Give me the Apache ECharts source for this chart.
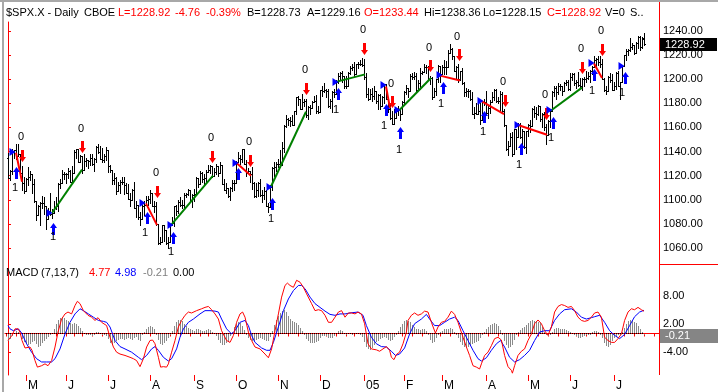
<!DOCTYPE html>
<html><head><meta charset="utf-8">
<script src="https://cdn.jsdelivr.net/npm/echarts@6/dist/echarts.min.js"></script>
<style>html,body{margin:0;padding:0;background:#fff}#c{width:718px;height:392px}</style>
</head><body><div id="c"></div>
<script>
// ---------- trading calendar ----------
const months = ['2004-04','2004-05','2004-06','2004-07','2004-08','2004-09','2004-10','2004-11','2004-12',
  '2005-01','2005-02','2005-03','2005-04','2005-05','2005-06','2005-07'];
const monthDays = [
  [20,21,22,23,26,27,28,29,30],
  [3,4,5,6,7,10,11,12,13,14,17,18,19,20,21,24,25,26,27,28],
  [1,2,3,4,7,8,9,10,14,15,16,17,18,21,22,23,24,25,28,29,30],
  [1,2,6,7,8,9,12,13,14,15,16,19,20,21,22,23,26,27,28,29,30],
  [2,3,4,5,6,9,10,11,12,13,16,17,18,19,20,23,24,25,26,27,30,31],
  [1,2,3,7,8,9,10,13,14,15,16,17,20,21,22,23,24,27,28,29,30],
  [1,4,5,6,7,8,11,12,13,14,15,18,19,20,21,22,25,26,27,28,29],
  [1,2,3,4,5,8,9,10,11,12,15,16,17,18,19,22,23,24,26,29,30],
  [1,2,3,6,7,8,9,10,13,14,15,16,17,20,21,22,23,27,28,29,30,31],
  [3,4,5,6,7,10,11,12,13,14,18,19,20,21,24,25,26,27,28,31],
  [1,2,3,4,7,8,9,10,11,14,15,16,17,18,22,23,24,25,28],
  [1,2,3,4,7,8,9,10,11,14,15,16,17,18,21,22,23,24,28,29,30,31],
  [1,4,5,6,7,8,11,12,13,14,15,18,19,20,21,22,25,26,27,28,29],
  [2,3,4,5,6,9,10,11,12,13,16,17,18,19,20,23,24,25,26,27,31],
  [1,2,3,6,7,8,9,10,13,14,15,16,17,20,21,22,23,24,27,28,29,30],
  [1,5,6,7,8,11,12,13,14,15,18,19,20,21,22,25]
];
const monthLabels = ['M','J','J','A','S','O','N','D','05','F','M','A','M','J','J'];
const priceTicks = [1060,1080,1100,1120,1140,1160,1180,1200,1220,1240];
const macdTicks = [8,2,-4];

// ---------- daily OHLC ($SPX.X) ----------
const open = [
 1135,1118,1124,1140,1141,1136,1138,1122,1114,
 1107,1117,1119,1121,1113,1099,1087,1095,1097,1097,1095,1084,1091,1088,1089,1093,1095,1113,1114,1121,
 1121,1121,1124,1115,1122,1140,1142,1131,1136,1125,1132,1133,1132,1135,1130,1134,1144,1140,1134,1133,1136,
 1141,1128,1125,1116,1118,1107,1112,1115,1115,1112,1106,1101,1100,1108,1093,1096,1086,1084,1095,1096,1100,
 1101,1106,1095,1095,1080,1064,1065,1079,1075,1064,1065,1079,1081,1095,1091,1098,1096,1096,1104,1105,1108,1099,
 1104,1105,1118,1113,1122,1117,1118,1123,1125,1128,1120,1123,1128,1122,1129,1113,1108,1110,1103,1110,1114,
 1114,1131,1135,1134,1142,1130,1122,1124,1121,1114,1103,1108,1114,1104,1104,1107,1095,1094,1111,1126,1127,
 1130,1130,1129,1143,1161,1167,1166,1165,1162,1174,1185,1184,1175,1181,1182,1170,1177,1176,1181,1182,1174,
 1173,1191,1190,1191,1190,1178,1182,1189,1188,1198,1203,1205,1203,1194,1194,1205,1209,1210,1204,1213,1213,1213,
 1212,1202,1188,1184,1188,1186,1190,1182,1187,1178,1185,1196,1184,1175,1168,1163,1168,1174,1175,1171,
 1181,1189,1193,1190,1203,1202,1203,1191,1197,1205,1206,1210,1210,1200,1201,1185,1190,1200,1211,
 1204,1210,1210,1210,1222,1225,1219,1207,1210,1200,1207,1197,1189,1190,1190,1184,1171,1172,1171,1174,1166,1181,
 1181,1172,1176,1181,1185,1191,1182,1182,1188,1174,1162,1142,1145,1152,1138,1159,1152,1162,1152,1157,1144,
 1157,1162,1161,1175,1172,1171,1178,1167,1171,1160,1154,1165,1174,1189,1193,1189,1194,1194,1190,1197,1198,
 1192,1202,1204,1197,1198,1195,1194,1200,1200,1201,1203,1207,1210,1216,1217,1214,1213,1200,1191,1190,1202,1199,
 1191,1194,1205,1194,1198,1211,1220,1223,1224,1227,1228,1222,1230,1235,1227,1233.44
];
const high = [
 1139,1125,1142,1141,1146,1146,1138,1128,1119,
 1118,1127,1124,1121,1117,1099,1096,1098,1103,1102,1095,1093,1106,1092,1099,1102,1114,1117,1125,1123,
 1122,1126,1125,1128,1141,1142,1142,1137,1136,1138,1135,1133,1138,1138,1135,1145,1146,1145,1143,1138,1144,
 1141,1129,1125,1122,1119,1115,1116,1119,1119,1114,1113,1106,1109,1115,1099,1096,1090,1096,1099,1103,1103,
 1108,1106,1099,1098,1080,1069,1079,1079,1075,1069,1080,1086,1095,1096,1100,1102,1100,1106,1106,1109,1108,1105,
 1109,1119,1118,1124,1123,1121,1125,1129,1129,1128,1126,1130,1128,1131,1129,1117,1114,1110,1111,1116,1116,
 1132,1140,1137,1142,1142,1133,1126,1124,1127,1115,1114,1115,1117,1108,1111,1108,1097,1112,1127,1131,1131,
 1134,1141,1148,1162,1170,1168,1169,1170,1174,1185,1186,1184,1188,1184,1184,1178,1179,1182,1186,1187,1178,
 1191,1194,1197,1192,1192,1184,1190,1192,1199,1205,1206,1207,1203,1203,1206,1211,1213,1214,1213,1214,1216,1218,
 1217,1205,1193,1192,1193,1194,1190,1188,1188,1186,1196,1196,1184,1180,1174,1175,1175,1178,1176,1182,
 1190,1195,1193,1204,1205,1206,1205,1199,1209,1207,1213,1212,1211,1203,1202,1193,1200,1212,1211,
 1212,1216,1215,1224,1229,1226,1219,1211,1213,1207,1209,1198,1193,1192,1191,1189,1177,1180,1180,1180,1181,1184,
 1190,1178,1183,1189,1192,1192,1185,1190,1189,1175,1162,1149,1155,1156,1159,1159,1164,1164,1159,1157,1157,
 1163,1166,1176,1178,1177,1179,1178,1172,1173,1163,1166,1174,1190,1194,1194,1197,1196,1194,1198,1199,1199,
 1205,1205,1205,1199,1206,1201,1201,1202,1207,1206,1208,1211,1219,1218,1219,1219,1217,1201,1194,1203,1205,1204,
 1198,1206,1207,1198,1212,1220,1225,1225,1234,1230,1228,1231,1236,1236,1235,1238.36
];
const low = [
 1118,1116,1121,1135,1134,1136,1121,1108,1106,
 1107,1112,1116,1106,1098,1083,1087,1079,1093,1088,1076,1084,1087,1085,1089,1092,1091,1110,1114,1117,
 1114,1118,1115,1115,1122,1135,1131,1131,1122,1125,1128,1126,1129,1129,1124,1131,1139,1134,1131,1131,1133,
 1123,1123,1113,1113,1105,1107,1106,1113,1105,1106,1101,1095,1100,1093,1086,1084,1079,1084,1087,1096,1096,
 1097,1095,1090,1079,1063,1063,1065,1066,1063,1060,1065,1079,1078,1087,1089,1095,1093,1094,1102,1104,1099,1094,
 1099,1105,1111,1113,1115,1113,1114,1123,1122,1119,1120,1121,1120,1122,1113,1108,1106,1102,1100,1107,1108,
 1114,1131,1130,1131,1130,1120,1122,1115,1109,1102,1102,1103,1103,1098,1101,1095,1090,1094,1108,1120,1124,
 1127,1127,1129,1140,1160,1162,1161,1162,1162,1171,1179,1175,1175,1178,1169,1167,1171,1176,1181,1172,1172,
 1173,1186,1189,1185,1177,1176,1173,1185,1188,1197,1199,1198,1193,1193,1194,1204,1208,1203,1204,1209,1212,1211,
 1200,1185,1183,1184,1182,1184,1180,1175,1175,1178,1180,1184,1173,1167,1163,1163,1168,1170,1166,1171,
 1180,1188,1185,1190,1200,1200,1190,1191,1192,1204,1206,1205,1200,1196,1184,1185,1187,1198,1198,
 1204,1204,1204,1210,1222,1217,1207,1201,1198,1199,1196,1186,1186,1185,1183,1171,1168,1171,1171,1163,1166,1179,
 1170,1168,1172,1181,1183,1181,1180,1174,1173,1161,1141,1137,1145,1136,1138,1142,1152,1151,1145,1143,1139,
 1153,1156,1161,1169,1167,1170,1165,1160,1158,1146,1154,1160,1174,1186,1184,1188,1191,1187,1190,1195,1191,
 1191,1199,1195,1193,1194,1193,1191,1194,1198,1200,1198,1204,1210,1211,1212,1210,1200,1190,1188,1190,1198,1191,
 1191,1192,1194,1184,1198,1211,1216,1220,1223,1225,1221,1222,1226,1224,1226,1228.15
];
const close = [
 1118,1124,1140,1141,1136,1138,1122,1114,1107,
 1117,1119,1121,1113,1099,1087,1095,1097,1097,1095,1084,1091,1088,1089,1093,1095,1113,1114,1121,1121,
 1121,1124,1115,1122,1140,1142,1131,1136,1125,1132,1133,1132,1135,1130,1134,1144,1140,1134,1133,1136,1141,
 1128,1125,1116,1118,1107,1112,1115,1115,1112,1106,1101,1100,1108,1093,1096,1086,1084,1095,1096,1100,1101,
 1106,1095,1095,1080,1064,1065,1079,1075,1064,1065,1079,1081,1095,1091,1098,1096,1096,1104,1105,1108,1099,1104,
 1105,1118,1113,1122,1117,1118,1123,1125,1128,1120,1123,1128,1122,1129,1113,1108,1110,1103,1110,1114,1114,
 1131,1135,1134,1142,1130,1122,1124,1121,1114,1103,1108,1114,1104,1104,1107,1095,1094,1111,1126,1127,1130,
 1130,1129,1143,1161,1167,1166,1165,1162,1174,1185,1184,1175,1181,1182,1170,1177,1176,1181,1182,1174,1173,
 1191,1190,1191,1190,1178,1182,1189,1188,1198,1203,1205,1203,1194,1194,1205,1209,1210,1204,1213,1213,1213,1212,
 1202,1188,1184,1188,1186,1190,1182,1187,1178,1185,1196,1184,1175,1168,1163,1168,1174,1175,1171,1181,
 1189,1193,1190,1203,1202,1203,1191,1197,1205,1206,1210,1210,1200,1201,1185,1190,1200,1211,1204,
 1210,1210,1210,1222,1225,1219,1207,1210,1200,1207,1197,1189,1190,1190,1184,1171,1172,1171,1174,1166,1181,1181,
 1172,1176,1181,1185,1191,1182,1182,1188,1174,1162,1142,1145,1152,1138,1159,1152,1162,1152,1157,1144,1157,
 1162,1161,1175,1172,1171,1178,1167,1171,1160,1154,1165,1174,1189,1193,1189,1194,1194,1190,1197,1198,1192,
 1202,1204,1197,1198,1195,1194,1200,1200,1201,1203,1207,1210,1216,1217,1214,1213,1200,1191,1190,1202,1199,1191,
 1194,1205,1194,1198,1211,1220,1223,1224,1227,1228,1222,1230,1235,1227,1234,1228.92
];

// ---------- system signals (bar index, price) ----------
const buyArrows = [[4,1127],[22.5,1080.7],[69.5,1090],[82.5,1073.3],[115,1126.4],[132,1101.5],[165,1192.7],[189,1179.4],
  [196,1160.4],[217.5,1197.7],[238,1173.6],[256.5,1147.1],[272.5,1168.7],[293,1208.5],[308.5,1206]];
const sellArrows = [[7,1131.3],[37,1138.8],[74.5,1101.5],[102,1130.5],[121,1127.2],[149,1186.9],[178,1220.1],[192,1176.1],
  [211,1206],[225.5,1215.1],[248.5,1177],[269,1166.2],[287,1204.3],[297,1219.3]];
const entryMarks = [[2,1139.6],[20.5,1089],[67,1097.3],[81,1079.1],[113.5,1130.5],[130.5,1110.6],[163.5,1197.7],[187.5,1195.2],
  [194.5,1174.5],[215.5,1203.5],[236,1181.9],[254.5,1162],[270.5,1174.5],[291.5,1213.5],[306.5,1211]];
const trendUp = [[22,1089,37,1125],[81.5,1079,102.5,1120],[131.5,1111,149,1173],[164.5,1198,178.5,1204],
  [195.5,1174,211.5,1201],[271.5,1174,287,1193]];
const trendDown = [[4,1139,7,1115],[69,1097,74.5,1079],[114,1131,121.5,1120],[189,1194,191,1176],
  [216,1203,226,1199],[236.5,1182,248,1171],[255,1162,269.5,1154],[293,1213,297,1201]];
const zeroLabels = [[6.5,1152.1],[36.5,1158.7],[74,1122.2],[101.5,1151.2],[120.5,1147.9],[148.5,1207.7],[177.5,1240.8],
  [191.5,1196],[210.5,1225.9],[224.5,1235],[247.5,1197.7],[268.5,1186.9],[286.5,1225.1],[296.5,1240]];
const oneLabels = [[3.5,1109.8],[22.5,1069.1],[68.5,1072.4],[81.5,1056.7],[131.5,1084.1],[164,1174.5],[188,1161.2],
  [195.5,1141.3],[216.5,1179.4],[237.5,1156.2],[255.5,1128.9],[271.5,1151.2],[292,1190.2],[307,1188.6]];

// ---------- MACD (7,13,7) ----------
const macdLine = [[0,-1.5],[2,-0.4],[3.5,1.0],[5,1.0],[6,0.3],[7,-1.5],[8.5,-3.1],[11,-2.9],[12,-3.6],[13.5,-5.8],[14.7,-7.2],[16.8,-6.9],[18.5,-6.5],[20,-6.9],[21.8,-5.8],[23.5,-2.9],[25,0.3],[26.8,3.1],[28.5,4.2],[30,4.6],[31.8,4.2],[33.5,6.0],[34.7,6.9],[36,6.4],[37.7,4.9],[40,3.9],[41.8,3.5],[43.5,2.8],[45,3.4],[46.8,2.4],[49.3,1.7],[51,-0.8],[52.7,-2.9],[54.3,-4.0],[56,-4.4],[58.5,-4.7],[61,-5.1],[62.7,-5.4],[64.3,-5.8],[66,-7.1],[67.7,-5.4],[69.3,-2.9],[71,-1.5],[72.3,-1.4],[73.5,-2.2],[75.2,-5.1],[76.3,-7.2],[77.7,-7.1],[79.3,-7.2],[80.2,-6.5],[81.8,-4.0],[83.5,-1.5],[85.2,1.4],[86.8,2.8],[88.5,3.9],[90.2,4.6],[91.8,4.4],[94.3,4.9],[96.8,5.3],[98.5,5.6],[100.2,5.8],[101.8,5.1],[103.5,4.2],[105.2,3.1],[106.8,0.6],[109.3,-1.5],[111,-1.9],[112.7,-0.4],[114.3,2.4],[116,4.2],[117.3,4.6],[118.5,3.5],[120.2,0.3],[121.8,-1.5],[123.5,-2.9],[126,-3.3],[128.5,-4.4],[130.2,-5.2],[131.8,-3.3],[133.5,0.6],[135.2,4.2],[136.8,7.8],[138.5,10.3],[139.7,10.8],[141,10.3],[142.7,9.9],[144.3,11.4],[145.2,11.7],[146,11.0],[147.7,9.9],[149.3,8.5],[151.8,6.4],[153.5,4.9],[155.2,5.1],[156.8,4.9],[158.5,3.9],[160.2,2.4],[161.8,2.4],[163.5,3.5],[165.2,4.6],[166.8,4.9],[168.5,3.5],[170.2,4.4],[171.8,4.4],[173.5,4.2],[175,4.6],[176.7,4.2],[178.3,2.1],[180,-2.2],[181.7,-3.3],[184.2,-3.5],[185.8,-3.8],[187.5,-3.3],[189.2,-2.8],[190.8,-3.6],[191.7,-5.1],[193,-5.6],[194.2,-4.5],[195.8,-4.0],[197.5,-2.2],[199.2,0.3],[200,2.8],[201.7,3.9],[203.3,4.4],[205,3.9],[206.7,4.2],[208.3,4.8],[210,4.6],[211.7,2.4],[213.7,0.1],[215,1.4],[216.7,2.4],[218.3,2.6],[220,3.5],[221.7,4.8],[223.3,4.1],[225,2.4],[227.5,-0.8],[229.2,-2.9],[230.8,-4.7],[232.5,-6.9],[234.2,-7.2],[235.8,-7.6],[236.7,-6.5],[238.3,-4.7],[240,-4.0],[241.7,-2.6],[243.3,-1.1],[245,-0.8],[246.7,-1.4],[248.3,-4.7],[250,-7.1],[251.7,-7.9],[252.2,-8.5],[253.3,-6.9],[255,-4.7],[256.7,-3.8],[258.3,-3.3],[260,-1.5],[261.7,-0.1],[263.3,2.1],[265,2.9],[266.7,2.1],[268.3,0.6],[270,-0.4],[271.7,1.4],[273.3,4.6],[275,5.8],[276.7,6.2],[278.3,6.0],[280,5.6],[281.7,5.8],[283.3,4.9],[285,3.5],[286.7,2.8],[288.3,2.6],[290,2.8],[291.7,3.5],[293.3,4.4],[295,4.6],[296.7,3.5],[298.3,-0.8],[300,-1.5],[301.7,-1.9],[303.3,-1.9],[305,-1.1],[306.7,-0.1],[308.3,2.8],[310,4.6],[311.7,5.3],[313.3,5.1],[315,5.6],[316.7,5.1],[318,4.77]];
const signalLine = [[0,1.7],[1,1.0],[2.7,0.6],[5.2,1.0],[6.8,0.1],[9.3,-2.2],[11.8,-4.0],[14.3,-5.4],[16.8,-6.1],[19.3,-6.1],[21.8,-6.1],[23.5,-5.4],[26,-3.3],[28.5,-0.1],[31,2.4],[33.5,4.2],[36,5.3],[37.7,4.9],[40.2,4.2],[42.7,3.5],[45.2,2.8],[47.7,2.6],[49.3,2.4],[51,1.4],[53.5,-1.5],[56,-2.8],[58.5,-3.3],[61.8,-4.0],[65.2,-5.1],[66.8,-5.6],[69.3,-4.7],[71.8,-3.3],[73.5,-2.8],[75.2,-3.6],[77.7,-5.1],[80.2,-5.9],[81.8,-5.4],[84.3,-3.3],[86,-0.8],[87.7,1.0],[90.2,2.4],[92.7,3.1],[96,4.2],[98.5,4.9],[101,4.9],[103.5,4.8],[105.2,4.6],[106.8,3.1],[109.3,1.0],[111.8,-0.1],[113.5,0.6],[116,2.4],[118.5,2.8],[120.2,1.7],[121.8,-0.4],[123.5,-1.9],[126.8,-3.1],[129.3,-3.6],[131,-3.6],[132.7,-1.9],[135.2,1.4],[137.7,4.9],[140.2,7.4],[142.7,9.2],[145.2,10.3],[146.8,10.3],[148.5,9.6],[151,7.8],[153.5,6.4],[156,5.6],[158.5,4.8],[161,4.1],[163.5,3.9],[166,4.2],[168.5,4.2],[171,4.4],[175,4.6],[177.5,3.9],[179.2,1.7],[181.7,-0.8],[184.2,-2.2],[186.7,-2.8],[189.2,-2.9],[191.7,-3.8],[193.7,-4.7],[195.8,-4.4],[198.3,-3.1],[200.8,-0.1],[203.3,2.1],[206.7,3.1],[209.2,4.1],[210.8,3.1],[213.3,1.7],[215.8,1.7],[218.3,2.4],[220.8,3.1],[223.3,3.5],[225,2.8],[227.5,0.6],[230,-1.5],[232.5,-3.6],[235,-5.4],[236.7,-5.9],[239.2,-5.2],[241.7,-3.6],[244.2,-2.2],[246.3,-1.5],[248.3,-2.9],[250.8,-5.1],[253.3,-6.1],[255.8,-5.6],[258.3,-4.7],[260.8,-3.6],[263.3,-1.5],[265.8,0.3],[268.3,0.6],[270.8,0.6],[273.3,2.8],[275.8,4.2],[278.3,5.1],[281.7,5.3],[284.2,4.6],[286.7,3.5],[289.2,3.1],[291.7,3.4],[293.3,3.6],[295.8,3.9],[298.3,2.4],[300.8,0.6],[303.3,-0.4],[305.8,-1.1],[308.3,-0.2],[310.8,1.7],[313.3,3.6],[315.8,4.6],[318,4.98]];
const histogram = [
 -1.5,-1.2,-0.6,0.2,0.5,0.4,-0.3,-1.2,-1.8,-2.2,
 -2.5,-2.2,-1.8,-1.6,-2.3,-2.8,-2.6,-2.0,-1.5,-1.2,
 -0.8,-0.4,0.2,1.0,2.0,2.8,3.3,3.6,3.4,3.0,
 2.6,2.2,2.0,2.2,2.0,1.6,1.2,0.6,0.2,-0.2,
 -0.4,-0.3,-0.5,-0.2,0.3,0.4,0.1,-0.2,-0.4,-0.5,
 -1.2,-2.0,-2.2,-2.0,-1.6,-1.4,-1.2,-1.2,-1.4,-1.1,
 -1.0,-1.2,-1.3,-1.0,-0.8,-1.4,-1.5,-0.4,0.4,0.9,
 1.4,1.7,1.5,1.0,-0.2,-1.3,-2.2,-2.5,-2.0,-1.6,
 -1.0,-0.3,0.6,1.6,2.4,2.9,3.0,2.6,2.1,1.6,
 1.2,1.0,0.8,0.6,0.9,1.0,0.8,0.5,0.6,0.7,
 0.9,0.7,0.4,0.1,-0.6,-1.4,-2.1,-2.5,-2.4,-2.0,
 -1.5,-0.6,0.4,1.4,2.1,2.4,2.2,1.6,0.8,-0.2,
 -0.9,-1.4,-1.5,-1.6,-1.4,-1.2,-1.0,-1.2,-1.4,-1.5,
 -1.5,-0.8,0.6,1.8,2.9,3.8,4.4,4.8,5.0,4.6,
 3.8,3.2,2.6,2.4,2.2,1.8,1.2,0.6,-0.4,-1.2,
 -1.7,-2.0,-2.1,-2.0,-1.8,-1.6,-1.0,-0.6,-0.5,-0.6,
 -0.9,-1.0,-0.9,-0.5,0.2,0.6,0.8,0.5,0.1,0.0,
 0.1,0.2,0.0,0.1,0.2,0.1,0.0,-0.8,-1.8,-2.8,
 -3.4,-3.5,-3.0,-2.4,-1.8,-1.5,-1.2,-0.9,-0.7,-1.0,
 -1.3,-1.6,-1.4,-0.8,-0.2,0.6,1.4,2.1,2.6,2.8,
 2.7,2.4,1.9,1.4,1.0,0.9,0.8,0.9,1.0,0.6,
 -0.4,-1.4,-2.0,-1.8,-1.0,-0.2,0.3,0.6,0.9,1.0,
 1.0,1.1,0.9,0.4,-0.3,-1.0,-1.8,-2.4,-2.8,-3.0,
 -2.8,-2.4,-2.2,-2.0,-1.8,-1.6,-1.0,-0.2,0.4,1.0,
 1.4,1.8,2.1,2.3,2.1,1.6,0.8,-0.4,-1.6,-2.4,
 -3.0,-2.8,-2.4,-1.4,-0.4,0.4,0.8,1.2,1.5,1.9,
 2.3,2.6,2.8,2.7,2.6,2.5,2.2,1.4,0.4,-0.3,
 -0.5,-0.3,0.4,1.0,1.2,1.2,1.0,0.9,1.0,0.8,
 0.6,0.4,0.2,-0.2,-0.6,-0.9,-1.0,-0.8,-0.6,-0.4,
 -0.2,0.0,0.3,0.5,0.5,0.3,-0.2,-1.0,-2.0,-2.6,
 -2.8,-2.4,-1.6,-1.0,-0.6,-0.4,-0.2,0.4,1.2,2.0,
 2.6,2.8,2.7,2.5,2.2,1.6,1.0,0.4,-0.21
];

// ---------- derived calendar helpers ----------
const dates = [];
months.forEach((m, k) => monthDays[k].forEach(d => dates.push(m + '-' + String(d).padStart(2, '0'))));
const wd = dates.map(s => new Date(s + 'T12:00:00Z').getUTCDay());
const weekStarts = [1 - wd[0]];
for (let i = 1; i < dates.length; i++) if (wd[i] < wd[i - 1]) weekStarts.push(i);
weekStarts.push(dates.length - 1 + (6 - wd[dates.length - 1]));
const monthStarts = [];
for (let i = 1; i < dates.length; i++) if (dates[i].slice(0, 7) !== dates[i - 1].slice(0, 7)) monthStarts.push(i);
const labelAt = {};
monthStarts.forEach((j, k) => { labelAt[j] = monthLabels[k]; });

const FONT = '"Liberation Sans", Arial, sans-serif';
const RED = '#ff0000', BLUE = '#0000ff', GREEN = '#008000';

const chart = echarts.init(document.getElementById('c'), null, { renderer: 'canvas' });

function ohlcItem(params, api) {
  const j = api.value(0);
  const x = Math.round(api.coord([j, 0])[0]);
  const yO = Math.round(api.coord([j, api.value(1)])[1]);
  const yH = Math.round(api.coord([j, api.value(2)])[1]);
  const yL = Math.round(api.coord([j, api.value(3)])[1]);
  const yC = Math.round(api.coord([j, api.value(4)])[1]);
  const st = { fill: '#000' };
  return { type: 'group', children: [
    { type: 'rect', shape: { x: x, y: yH, width: 1, height: Math.max(1, yL - yH + 1) }, style: st },
    { type: 'rect', shape: { x: x - 1, y: yO, width: 1, height: 1 }, style: st },
    { type: 'rect', shape: { x: x + 1, y: yC, width: 1, height: 1 }, style: st }
  ]};
}
function markItem(params, api) {
  const kind = api.value(2);
  const p = api.coord([api.value(0), api.value(1)]);
  const x = Math.round(p[0]) + 0.5, y = Math.round(p[1]);
  let pts, fill;
  if (kind === 0) { // buy: up arrow, tip at point
    pts = [[x, y], [x + 3.5, y + 5], [x + 1.5, y + 5], [x + 1.5, y + 12], [x - 1.5, y + 12], [x - 1.5, y + 5], [x - 3.5, y + 5]];
    fill = BLUE;
  } else if (kind === 1) { // sell: down arrow, tip at point
    pts = [[x, y], [x + 3.5, y - 5], [x + 1.5, y - 5], [x + 1.5, y - 12], [x - 1.5, y - 12], [x - 1.5, y - 5], [x - 3.5, y - 5]];
    fill = RED;
  } else { // entry triangle pointing right
    pts = [[x - 3, y - 4], [x + 3, y], [x - 3, y + 4]];
    fill = BLUE;
  }
  return { type: 'polygon', shape: { points: pts }, style: { fill: fill } };
}
function trendItem(params, api) {
  const a = api.coord([api.value(0), api.value(1)]);
  const b = api.coord([api.value(2), api.value(3)]);
  return { type: 'line', shape: { x1: a[0], y1: a[1], x2: b[0], y2: b[1] },
    style: { stroke: api.value(4) === 1 ? GREEN : RED, lineWidth: 2 } };
}
function textItem(params, api) {
  const p = api.coord([api.value(0), api.value(1)]);
  return { type: 'text', x: Math.round(p[0]), y: Math.round(p[1]),
    style: { text: String(api.value(2)), fill: '#000', font: '11px ' + FONT, align: 'center', verticalAlign: 'middle' } };
}
function histItem(params, api) {
  const j = api.value(0);
  const x = Math.round(api.coord([j, 0])[0]);
  const y0 = Math.round(api.coord([j, 0])[1]);
  const y1 = Math.round(api.coord([j, api.value(1)])[1]);
  return { type: 'rect', shape: { x: x, y: Math.min(y0, y1), width: 1, height: Math.max(1, Math.abs(y1 - y0)) },
    style: { fill: '#8a8a8a' } };
}

const markData = []
  .concat(buyArrows.map(d => [d[0], d[1], 0]))
  .concat(sellArrows.map(d => [d[0], d[1], 1]))
  .concat(entryMarks.map(d => [d[0], d[1], 2]));
const trendData = trendUp.map(d => d.concat([1])).concat(trendDown.map(d => d.concat([0])));
const textData = zeroLabels.map(d => [d[0], d[1], '0']).concat(oneLabels.map(d => [d[0], d[1], '1']));

const X_MIN = -1.5, X_MAX = 325.5;
const option = {
  animation: false,
  backgroundColor: '#fff',
  grid: [
    { left: 5, right: 59, top: 22, height: 243 },
    { left: 5, right: 59, top: 265, height: 110 }
  ],
  xAxis: [
    { type: 'value', gridIndex: 0, min: X_MIN, max: X_MAX, show: false },
    { type: 'value', gridIndex: 1, min: X_MIN, max: X_MAX, position: 'bottom',
      axisLine: { show: true, lineStyle: { color: RED, width: 1 } },
      axisTick: { show: true, length: 3, customValues: weekStarts, lineStyle: { color: RED } },
      axisLabel: { show: true, customValues: monthStarts, formatter: v => labelAt[v] || '',
        color: '#000', fontSize: 12, fontFamily: FONT, align: 'left', margin: 5, padding: [0, 0, 0, 2] },
      splitLine: { show: false } },
    { type: 'value', gridIndex: 1, min: X_MIN, max: X_MAX, position: 'bottom',
      axisLine: { show: false },
      axisTick: { show: true, length: 6, customValues: monthStarts, lineStyle: { color: RED } },
      axisLabel: { show: false }, splitLine: { show: false } }
  ],
  yAxis: [
    { type: 'value', gridIndex: 0, position: 'right', min: 1045.9, max: 1247.465,
      axisLine: { show: true, lineStyle: { color: RED } },
      axisTick: { show: true, length: 3, customValues: priceTicks, lineStyle: { color: RED } },
      axisLabel: { customValues: priceTicks, formatter: v => v.toFixed(2), color: '#000', fontSize: 11, fontFamily: FONT, margin: 4 },
      splitLine: { show: false } },
    { type: 'value', gridIndex: 1, position: 'right', min: -8.89, max: 14.68,
      axisLine: { show: true, lineStyle: { color: RED } },
      axisTick: { show: true, length: 3, customValues: macdTicks, lineStyle: { color: RED } },
      axisLabel: { customValues: macdTicks, formatter: v => v.toFixed(2), color: '#000', fontSize: 11, fontFamily: FONT, margin: 4 },
      splitLine: { show: false } }
  ],
  series: [
    { type: 'custom', xAxisIndex: 0, yAxisIndex: 0, renderItem: ohlcItem, clip: true,
      data: dates.map((d, i) => [i, open[i], high[i], low[i], close[i]]), z: 2 },
    { type: 'custom', xAxisIndex: 0, yAxisIndex: 0, renderItem: trendItem, data: trendData, z: 3 },
    { type: 'custom', xAxisIndex: 0, yAxisIndex: 0, renderItem: markItem, data: markData, z: 4 },
    { type: 'custom', xAxisIndex: 0, yAxisIndex: 0, renderItem: textItem, data: textData, z: 4 },
    { type: 'custom', xAxisIndex: 1, yAxisIndex: 1, renderItem: histItem, data: histogram.map((h, i) => [i, h]), z: 2 },
    { type: 'line', xAxisIndex: 1, yAxisIndex: 1, data: [[-1, 0], [dates.length - 1, 0]], symbol: 'none',
      lineStyle: { color: '#000', width: 1, type: [1, 1] }, z: 3 },
    { type: 'line', xAxisIndex: 1, yAxisIndex: 1, data: signalLine, symbol: 'none',
      lineStyle: { color: BLUE, width: 1 }, z: 4 },
    { type: 'line', xAxisIndex: 1, yAxisIndex: 1, data: macdLine, symbol: 'none',
      lineStyle: { color: RED, width: 1 }, z: 5 }
  ]
};
chart.setOption(option);

// header, panel titles and value boxes
const last = dates.length - 1;
const yPrice = chart.convertToPixel({ yAxisIndex: 0 }, close[last]);
const yHist = chart.convertToPixel({ yAxisIndex: 1 }, histogram[last]);
function txt(x, y, s, color, size) {
  return { type: 'text', x: x, y: y, z: 20,
    style: { text: s, fill: color, font: (size || 11) + 'px ' + FONT, align: 'left', verticalAlign: 'middle' } };
}
const header = [
  [6, '$SPX.X - Daily', '#000'], [84, 'CBOE', '#000'], [118, 'L=1228.92', RED], [175, '-4.76', RED],
  [206, '-0.39%', RED], [247, 'B=1228.73', '#000'], [307, 'A=1229.16', '#000'], [364, 'O=1233.44', RED],
  [424, 'Hi=1238.36', '#000'], [483, 'Lo=1228.15', '#000'], [547, 'C=1228.92', RED], [605, 'V=0', '#000'], [630, 'S..', '#000']
];
const macdHead = [
  [6, 'MACD', '#000'], [41, '(7,13,7)', '#000'], [89, '4.77', RED], [115, '4.98', BLUE], [143, '-0.21', '#808080'], [173, '0.00', '#000']
];
const graphic = [
  { type: 'rect', shape: { x: 0, y: 0, width: 718, height: 2 }, style: { fill: '#a8a8a8' }, z: 30 },
  { type: 'rect', shape: { x: 2, y: 0, width: 2, height: 392 }, style: { fill: '#a8a8a8' }, z: 30 },
  { type: 'line', shape: { x1: 659.5, y1: 0, x2: 659.5, y2: 375 }, style: { stroke: RED, lineWidth: 1 }, z: 25 },
  { type: 'line', shape: { x1: 659, y1: 264.5, x2: 718, y2: 264.5 }, style: { stroke: RED, lineWidth: 1 }, z: 25 },
  { type: 'rect', shape: { x: 660, y: Math.round(yPrice) - 6, width: 57, height: 13 }, style: { fill: '#000' }, z: 26 },
  { type: 'text', x: 665, y: Math.round(yPrice) + 0.5, z: 27,
    style: { text: close[last].toFixed(2), fill: '#fff', font: '11px ' + FONT, align: 'left', verticalAlign: 'middle' } },
  { type: 'rect', shape: { x: 660, y: Math.round(yHist) - 5, width: 58, height: 14 }, style: { fill: '#858585' }, z: 26 },
  { type: 'text', x: 665, y: Math.round(yHist) + 2, z: 27,
    style: { text: histogram[last].toFixed(2), fill: '#fff', font: '11px ' + FONT, align: 'left', verticalAlign: 'middle' } }
].concat(header.map(h => txt(h[0], 13, h[1], h[2])))
 .concat(macdHead.map(h => txt(h[0], 273, h[1], h[2])));
chart.setOption({ graphic: graphic });
</script>
</body></html>
